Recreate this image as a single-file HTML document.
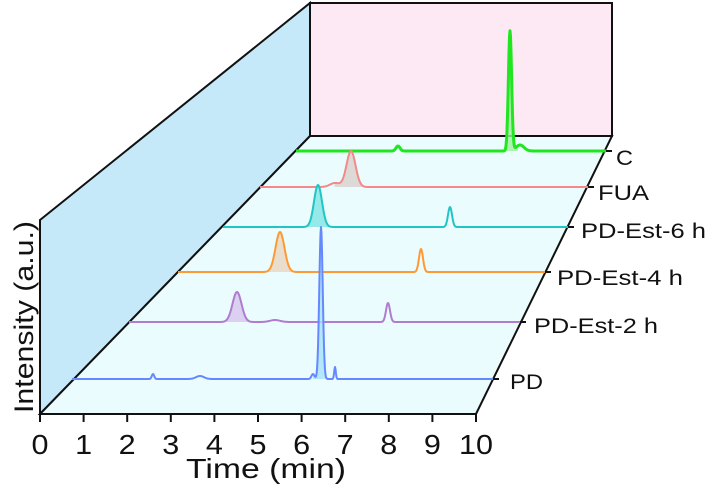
<!DOCTYPE html>
<html><head><style>
html,body{margin:0;padding:0;background:#fff;width:708px;height:490px;overflow:hidden}
svg text{font-family:"Liberation Sans",sans-serif;fill:#111}
</style></head><body>
<svg id="s" width="708" height="490" viewBox="0 0 708 490" xmlns="http://www.w3.org/2000/svg">
<polygon points="40,220 310,3 310,136 40,414" fill="#c6e9f9" stroke="#111" stroke-width="2"/>
<polygon points="310,3 612,3 612,136 310,136" fill="#fde9f3" stroke="#111" stroke-width="2"/>
<polygon points="40,414 310,136 612,136 476,414" fill="#eafcfd" stroke="#111" stroke-width="2"/>
<g id="series"></g>
<g stroke="#111" stroke-width="2" id="ticks"></g>
<g font-size="28" text-anchor="middle" id="tl"></g>
<text x="186" y="478" font-size="28" textLength="160" lengthAdjust="spacingAndGlyphs">Time (min)</text>
<text transform="translate(33,413) rotate(-90)" font-size="27" textLength="192" lengthAdjust="spacingAndGlyphs">Intensity (a.u.)</text>
<g font-size="21">
<text x="616" y="165" textLength="17" lengthAdjust="spacingAndGlyphs">C</text>
<text x="598" y="200" textLength="51" lengthAdjust="spacingAndGlyphs">FUA</text>
<text x="581" y="238" textLength="125" lengthAdjust="spacingAndGlyphs">PD-Est-6 h</text>
<text x="557" y="285" textLength="126" lengthAdjust="spacingAndGlyphs">PD-Est-4 h</text>
<text x="534" y="333" textLength="124" lengthAdjust="spacingAndGlyphs">PD-Est-2 h</text>
<text x="510" y="389" textLength="33" lengthAdjust="spacingAndGlyphs">PD</text>
</g>
<g stroke="#111" stroke-width="2">
<line x1="606" y1="151" x2="612" y2="151"/>
<line x1="588" y1="187" x2="594" y2="187"/>
<line x1="568" y1="227" x2="574" y2="227"/>
<line x1="545" y1="272" x2="551" y2="272"/>
<line x1="520" y1="322" x2="526" y2="322"/>
<line x1="493" y1="379" x2="499" y2="379"/>
</g>
</svg>
<script>
var NS="http://www.w3.org/2000/svg";
function el(t,a,p){var e=document.createElementNS(NS,t);for(var k in a)e.setAttribute(k,a[k]);p.appendChild(e);return e;}
var tk=document.getElementById('ticks'),tl=document.getElementById('tl');
for(var i=0;i<=10;i++){var x=40+i*43.6;el('line',{x1:x,y1:414,x2:x,y2:422},tk);
 var t=el('text',{x:x,y:454,textLength:(i==10?34:17),lengthAdjust:'spacingAndGlyphs'},tl);t.textContent=i;}
var S=[
 {y:151,x0:296,x1:606,c:'#1fe61f',w:3,f:'#9ff09f',pk:[[510,120,1.6],[398,5,2],[520,6,4]]},
 {y:187,x0:260,x1:588,c:'#f28a8a',w:2,f:'#d9d0cc',pk:[[351,36,4.5],[335,4,5]]},
 {y:227,x0:223,x1:568,c:'#22c4c4',w:2,f:'#7fe3e3',pk:[[318,42,4],[450,20,2]]},
 {y:272,x0:178,x1:545,c:'#ff9933',w:2,f:'#e8d4c0',pk:[[280,40,4.5],[421,23,2]]},
 {y:322,x0:129,x1:520,c:'#b07cd0',w:2,f:'#d7c4ec',pk:[[237,30,4.5],[388,19,2],[275,2,5]]},
 {y:379,x0:72,x1:493,c:'#6688ff',w:2,f:'#a6e2f8',pk:[[321,152,1.7],[335,12,0.8],[153,5,1.2],[200,3,4],[313,5,1.5]]}
];
var g=document.getElementById('series');
S.forEach(function(s){
 var d='',fd='';
 for(var x=s.x0;x<=s.x1;x+=0.5){var h=0;s.pk.forEach(function(p){h+=p[1]*Math.exp(-Math.pow((x-p[0])/p[2],2)/2);});
  var y=s.y-h;d+=(x==s.x0?'M':'L')+x+','+y.toFixed(2);}
 var p0=s.pk[0];var a=p0[0]-3*p0[2]-3,b=p0[0]+3*p0[2]+3;
 for(var x=a;x<=b;x+=0.5){var h=0;s.pk.forEach(function(p){h+=p[1]*Math.exp(-Math.pow((x-p[0])/p[2],2)/2);});fd+=(x==a?'M':'L')+x+','+(s.y-h).toFixed(2);}
 fd+='L'+b+','+s.y+'L'+a+','+s.y+'Z';
 el('path',{d:fd,fill:s.f,opacity:0.8},g);
 el('path',{d:d,fill:'none',stroke:s.c,'stroke-width':s.w,'stroke-linejoin':'round'},g);
});
</script>
</body></html>
